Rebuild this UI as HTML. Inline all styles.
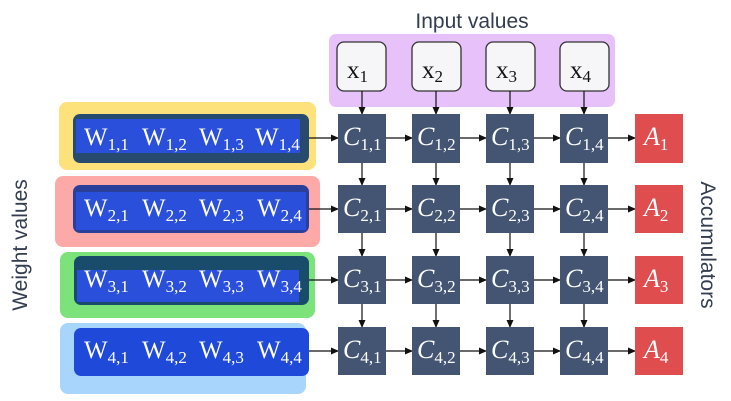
<!DOCTYPE html>
<html><head><meta charset="utf-8"><style>
html,body{margin:0;padding:0;background:#fff;}
svg{display:block;}
.m{font-family:"Liberation Serif",serif;fill:#fff;}
.l{font-family:"Liberation Sans",sans-serif;fill:#333d4f;}
</style></head><body>
<svg width="731" height="401" viewBox="0 0 731 401" xmlns="http://www.w3.org/2000/svg">
<defs><marker id="ar" markerWidth="8" markerHeight="8" refX="7" refY="4" orient="auto" markerUnits="userSpaceOnUse"><path d="M0,0.5 L8,4 L0,7.5z" fill="#111"/></marker></defs>
<text class="l" x="472" y="28" font-size="21" text-anchor="middle">Input values</text>
<text class="l" font-size="21" text-anchor="middle" transform="translate(27,245) rotate(-90)">Weight values</text>
<text class="l" font-size="21" text-anchor="middle" transform="translate(701,245) rotate(90)">Accumulators</text>
<rect x="329" y="34" width="286" height="73" rx="7" fill="#e7c1f9"/>
<g fill="#f6f6f8" stroke="#333" stroke-width="1.3">
<rect x="337" y="42" width="49" height="49" rx="7"/><rect x="412" y="42" width="49" height="49" rx="7"/>
<rect x="486" y="42" width="49" height="49" rx="7"/><rect x="560" y="42" width="49" height="49" rx="7"/></g>
<g class="m" style="fill:#111" font-size="25">
<text x="347" y="78">x<tspan font-size="17" dy="4">1</tspan></text><text x="422" y="78">x<tspan font-size="17" dy="4">2</tspan></text>
<text x="496" y="78">x<tspan font-size="17" dy="4">3</tspan></text><text x="570" y="78">x<tspan font-size="17" dy="4">4</tspan></text></g>
<rect x="59" y="102" width="257" height="68" rx="8" fill="#fde17a"/>
<rect x="55" y="176" width="265" height="71" rx="8" fill="#fca9a8"/>
<rect x="60" y="252" width="255" height="66" rx="8" fill="#7be37a"/>
<rect x="60" y="323" width="246" height="71" rx="8" fill="#a8d5fb"/>
<rect x="73" y="114" width="236" height="49" rx="7" fill="#274b6e"/><rect x="76" y="119" width="224" height="34" fill="#2a4fdb"/>
<rect x="73" y="185" width="236" height="48" rx="7" fill="#2a3f9a"/><rect x="76" y="192" width="230" height="38" fill="#2a4fdb"/>
<rect x="74" y="256" width="235" height="49" rx="7" fill="#184c6a"/><rect x="77" y="270" width="222" height="32" fill="#2a4fdb"/>
<rect x="74" y="328" width="235" height="48" rx="7" fill="#1f49d9"/>
<g class="m" font-size="25">
<text x="84" y="145">W<tspan font-size="17" dy="5">1,1</tspan></text><text x="142" y="145">W<tspan font-size="17" dy="5">1,2</tspan></text><text x="199" y="145">W<tspan font-size="17" dy="5">1,3</tspan></text><text x="255" y="145">W<tspan font-size="17" dy="5">1,4</tspan></text>
<text x="84" y="216">W<tspan font-size="17" dy="5">2,1</tspan></text><text x="142" y="216">W<tspan font-size="17" dy="5">2,2</tspan></text><text x="199" y="216">W<tspan font-size="17" dy="5">2,3</tspan></text><text x="257" y="216">W<tspan font-size="17" dy="5">2,4</tspan></text>
<text x="84" y="287">W<tspan font-size="17" dy="5">3,1</tspan></text><text x="142" y="287">W<tspan font-size="17" dy="5">3,2</tspan></text><text x="199" y="287">W<tspan font-size="17" dy="5">3,3</tspan></text><text x="257" y="287">W<tspan font-size="17" dy="5">3,4</tspan></text>
<text x="84" y="358">W<tspan font-size="17" dy="5">4,1</tspan></text><text x="142" y="358">W<tspan font-size="17" dy="5">4,2</tspan></text><text x="199" y="358">W<tspan font-size="17" dy="5">4,3</tspan></text><text x="257" y="358">W<tspan font-size="17" dy="5">4,4</tspan></text>
</g>
<g stroke="#111" stroke-width="1.2" marker-end="url(#ar)">
<line x1="309" y1="138" x2="338" y2="138"/><line x1="309" y1="209" x2="338" y2="209"/><line x1="309" y1="280" x2="338" y2="280"/><line x1="309" y1="351" x2="338" y2="351"/>
<line x1="386" y1="138" x2="412" y2="138"/><line x1="460" y1="138" x2="486" y2="138"/><line x1="534" y1="138" x2="560" y2="138"/><line x1="608" y1="138" x2="635" y2="138"/>
<line x1="386" y1="209" x2="412" y2="209"/><line x1="460" y1="209" x2="486" y2="209"/><line x1="534" y1="209" x2="560" y2="209"/><line x1="608" y1="209" x2="635" y2="209"/>
<line x1="386" y1="280" x2="412" y2="280"/><line x1="460" y1="280" x2="486" y2="280"/><line x1="534" y1="280" x2="560" y2="280"/><line x1="608" y1="280" x2="635" y2="280"/>
<line x1="386" y1="351" x2="412" y2="351"/><line x1="460" y1="351" x2="486" y2="351"/><line x1="534" y1="351" x2="560" y2="351"/><line x1="608" y1="351" x2="635" y2="351"/>
<line x1="362" y1="91" x2="362" y2="114"/><line x1="436" y1="91" x2="436" y2="114"/><line x1="510" y1="91" x2="510" y2="114"/><line x1="584" y1="91" x2="584" y2="114"/>
<line x1="362" y1="163" x2="362" y2="185"/><line x1="436" y1="163" x2="436" y2="185"/><line x1="510" y1="163" x2="510" y2="185"/><line x1="584" y1="163" x2="584" y2="185"/>
<line x1="362" y1="233" x2="362" y2="256"/><line x1="436" y1="233" x2="436" y2="256"/><line x1="510" y1="233" x2="510" y2="256"/><line x1="584" y1="233" x2="584" y2="256"/>
<line x1="362" y1="304" x2="362" y2="327"/><line x1="436" y1="304" x2="436" y2="327"/><line x1="510" y1="304" x2="510" y2="327"/><line x1="584" y1="304" x2="584" y2="327"/>
</g>
<g fill="#435572">
<rect x="338" y="114" width="48" height="49"/><rect x="412" y="114" width="48" height="49"/><rect x="486" y="114" width="48" height="49"/><rect x="560" y="114" width="48" height="49"/>
<rect x="338" y="185" width="48" height="48"/><rect x="412" y="185" width="48" height="48"/><rect x="486" y="185" width="48" height="48"/><rect x="560" y="185" width="48" height="48"/>
<rect x="338" y="256" width="48" height="48"/><rect x="412" y="256" width="48" height="48"/><rect x="486" y="256" width="48" height="48"/><rect x="560" y="256" width="48" height="48"/>
<rect x="338" y="327" width="48" height="48"/><rect x="412" y="327" width="48" height="48"/><rect x="486" y="327" width="48" height="48"/><rect x="560" y="327" width="48" height="48"/>
</g>
<g fill="#e04d4f">
<rect x="635" y="114" width="48" height="49"/><rect x="635" y="185" width="48" height="48"/><rect x="635" y="256" width="48" height="48"/><rect x="635" y="327" width="48" height="48"/>
</g>
<g class="m" font-size="26" font-style="italic">
<text x="343" y="145">C<tspan font-size="17" font-style="normal" dy="5">1,1</tspan></text><text x="417" y="145">C<tspan font-size="17" font-style="normal" dy="5">1,2</tspan></text><text x="491" y="145">C<tspan font-size="17" font-style="normal" dy="5">1,3</tspan></text><text x="565" y="145">C<tspan font-size="17" font-style="normal" dy="5">1,4</tspan></text>
<text x="343" y="216">C<tspan font-size="17" font-style="normal" dy="5">2,1</tspan></text><text x="417" y="216">C<tspan font-size="17" font-style="normal" dy="5">2,2</tspan></text><text x="491" y="216">C<tspan font-size="17" font-style="normal" dy="5">2,3</tspan></text><text x="565" y="216">C<tspan font-size="17" font-style="normal" dy="5">2,4</tspan></text>
<text x="343" y="287">C<tspan font-size="17" font-style="normal" dy="5">3,1</tspan></text><text x="417" y="287">C<tspan font-size="17" font-style="normal" dy="5">3,2</tspan></text><text x="491" y="287">C<tspan font-size="17" font-style="normal" dy="5">3,3</tspan></text><text x="565" y="287">C<tspan font-size="17" font-style="normal" dy="5">3,4</tspan></text>
<text x="343" y="358">C<tspan font-size="17" font-style="normal" dy="5">4,1</tspan></text><text x="417" y="358">C<tspan font-size="17" font-style="normal" dy="5">4,2</tspan></text><text x="491" y="358">C<tspan font-size="17" font-style="normal" dy="5">4,3</tspan></text><text x="565" y="358">C<tspan font-size="17" font-style="normal" dy="5">4,4</tspan></text>
<text x="644" y="145">A<tspan font-size="17" font-style="normal" dy="5">1</tspan></text><text x="644" y="216">A<tspan font-size="17" font-style="normal" dy="5">2</tspan></text><text x="644" y="287">A<tspan font-size="17" font-style="normal" dy="5">3</tspan></text><text x="644" y="358">A<tspan font-size="17" font-style="normal" dy="5">4</tspan></text>
</g>
</svg>
</body></html>
